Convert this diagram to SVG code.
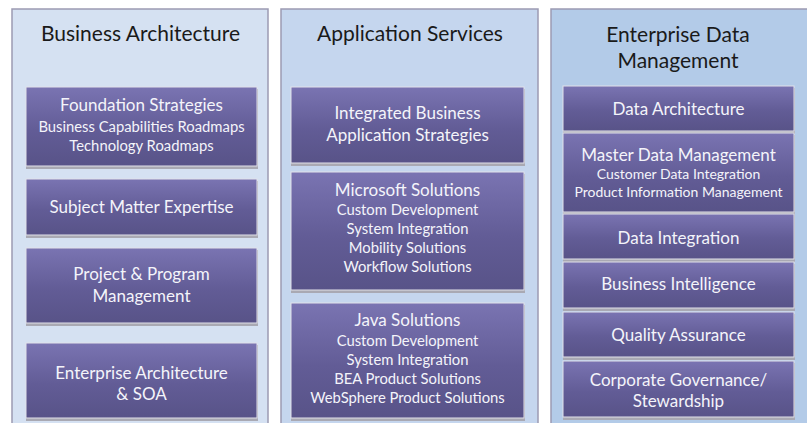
<svg xmlns="http://www.w3.org/2000/svg" width="807" height="423" viewBox="0 0 807 423">
<defs>
<linearGradient id="g" x1="0" y1="0" x2="0" y2="1">
<stop offset="0" stop-color="#7a74b2"/>
<stop offset="0.55" stop-color="#625c96"/>
<stop offset="1" stop-color="#585388"/>
</linearGradient>
</defs>
<style>
.panel{stroke:#9c9ab2;stroke-width:1.5}
.shadow{fill:#a9a9b3}
.box{fill:url(#g);stroke:#e2e2ea;stroke-width:1}
.title{font-family:"Lato","Open Sans",sans-serif;font-size:21px;fill:#1a1a1a;text-anchor:middle}
.h{font-family:"Lato","Open Sans",sans-serif;font-size:17px;fill:#f4f4fa;text-anchor:middle}
.s{font-family:"Lato","Open Sans",sans-serif;font-size:14.8px;fill:#f4f4fa;text-anchor:middle}
.t{font-family:"Lato","Open Sans",sans-serif;font-size:14px;fill:#f4f4fa;text-anchor:middle}
</style>
<rect width="807" height="423" fill="#ffffff"/>
<g id="panel-business">
<rect class="panel" x="12" y="9" width="256" height="420" fill="#d5e1f2"/>
<text class="title" x="140.5" y="41">Business Architecture</text>
</g>
<g id="panel-application">
<rect class="panel" x="281" y="9" width="257" height="420" fill="#c5d6ee"/>
<text class="title" x="410" y="41">Application Services</text>
</g>
<g id="panel-data">
<rect class="panel" x="551" y="9" width="262" height="420" fill="#b3cbe8"/>
<text class="title" x="678" y="42">Enterprise Data</text>
<text class="title" x="678" y="68">Management</text>
</g>
<g id="b1">
<rect class="shadow" x="26" y="89" width="232" height="80"/>
<rect class="box" x="26" y="87" width="231" height="79"/>
<text class="h" x="141.5" y="111">Foundation Strategies</text>
<text class="s" x="141.5" y="132">Business Capabilities Roadmaps</text>
<text class="s" x="141.5" y="151">Technology Roadmaps</text>
</g>
<g id="b2">
<rect class="shadow" x="26" y="181" width="232" height="57"/>
<rect class="box" x="26" y="179" width="231" height="56"/>
<text class="h" x="141.5" y="213">Subject Matter Expertise</text>
</g>
<g id="b3">
<rect class="shadow" x="26" y="250" width="232" height="76"/>
<rect class="box" x="26" y="248" width="231" height="75"/>
<text class="h" x="141.5" y="280">Project &amp; Program</text>
<text class="h" x="141.5" y="302">Management</text>
</g>
<g id="b4">
<rect class="shadow" x="26" y="345" width="232" height="76"/>
<rect class="box" x="26" y="343" width="231" height="75"/>
<text class="h" x="141.5" y="379">Enterprise Architecture</text>
<text class="h" x="141.5" y="400">&amp; SOA</text>
</g>
<g id="a1">
<rect class="shadow" x="291" y="89" width="234" height="77"/>
<rect class="box" x="291" y="87" width="233" height="76"/>
<text class="h" x="407.5" y="119">Integrated Business</text>
<text class="h" x="407.5" y="141">Application Strategies</text>
</g>
<g id="a2">
<rect class="shadow" x="291" y="174" width="234" height="119"/>
<rect class="box" x="291" y="172" width="233" height="118"/>
<text class="h" x="407.5" y="196">Microsoft Solutions</text>
<text class="s" x="407.5" y="215">Custom Development</text>
<text class="s" x="407.5" y="234">System Integration</text>
<text class="s" x="407.5" y="253">Mobility Solutions</text>
<text class="s" x="407.5" y="272">Workflow Solutions</text>
</g>
<g id="a3">
<rect class="shadow" x="291" y="305" width="234" height="116"/>
<rect class="box" x="291" y="303" width="233" height="115"/>
<text class="h" x="407.5" y="326">Java Solutions</text>
<text class="s" x="407.5" y="346">Custom Development</text>
<text class="s" x="407.5" y="365">System Integration</text>
<text class="s" x="407.5" y="384">BEA Product Solutions</text>
<text class="s" x="407.5" y="403">WebSphere Product Solutions</text>
</g>
<g id="d1">
<rect class="shadow" x="563" y="88" width="232" height="46"/>
<rect class="box" x="563" y="86" width="231" height="45"/>
<text class="h" x="678.5" y="115">Data Architecture</text>
</g>
<g id="d2">
<rect class="shadow" x="563" y="135" width="232" height="80"/>
<rect class="box" x="563" y="133" width="231" height="79"/>
<text class="h" x="678.5" y="161">Master Data Management</text>
<text class="t" x="678.5" y="179">Customer Data Integration</text>
<text class="t" x="678.5" y="197">Product Information Management</text>
</g>
<g id="d3">
<rect class="shadow" x="563" y="215" width="232" height="47"/>
<rect class="box" x="563" y="214" width="231" height="45"/>
<text class="h" x="678.5" y="244">Data Integration</text>
</g>
<g id="d4">
<rect class="shadow" x="563" y="264" width="232" height="47"/>
<rect class="box" x="563" y="262" width="231" height="46"/>
<text class="h" x="678.5" y="290">Business Intelligence</text>
</g>
<g id="d5">
<rect class="shadow" x="563" y="314" width="232" height="46"/>
<rect class="box" x="563" y="312" width="231" height="45"/>
<text class="h" x="678.5" y="341">Quality Assurance</text>
</g>
<g id="d6">
<rect class="shadow" x="563" y="363" width="232" height="57"/>
<rect class="box" x="563" y="361" width="231" height="56"/>
<text class="h" x="678.5" y="386">Corporate Governance/</text>
<text class="h" x="678.5" y="407">Stewardship</text>
</g>
<g id="connectors"/>
</svg>
